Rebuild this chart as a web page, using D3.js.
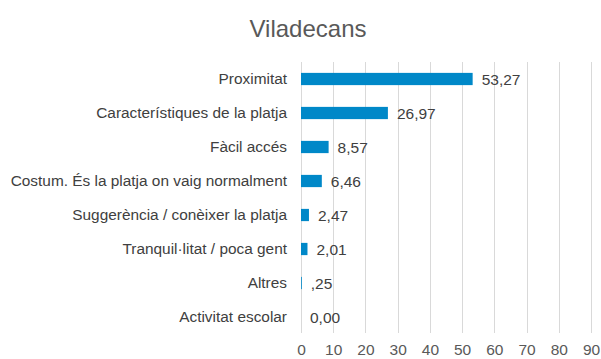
<!DOCTYPE html>
<html>
<head>
<meta charset="utf-8">
<script src="https://cdn.jsdelivr.net/npm/d3@7"></script>
<style>
  html, body { margin: 0; padding: 0; background: #fff; }
  svg { display: block; font-family: "Liberation Sans", Arial, sans-serif; }
</style>
</head>
<body>
<svg id="chart" width="601" height="359"></svg>
<script>
// Motius d'elecció de la platja — Viladecans (%)
const categories = [
  "Proximitat",
  "Característiques de la platja",
  "Fàcil accés",
  "Costum. És la platja on vaig normalment",
  "Suggerència / conèixer la platja",
  "Tranquil·litat / poca gent",
  "Altres",
  "Activitat escolar"
];
const values = [53.27, 26.97, 8.57, 6.46, 2.47, 2.01, 0.25, 0.00];
const valueLabels = ["53,27", "26,97", "8,57", "6,46", "2,47", "2,01", ",25", "0,00"];
const ticks = [0, 10, 20, 30, 40, 50, 60, 70, 80, 90];
const title = "Viladecans";

const svg = d3.select("#chart");
const FONT = "Liberation Sans, Arial, sans-serif";

const x = d3.scaleLinear().domain([0, 90]).range([301, 591]);
const y = d3.scaleBand().domain(categories).range([62, 334]).paddingInner(0.64).paddingOuter(0.32);

// Title
svg.append("text")
  .attr("x", 308).attr("y", 37)
  .attr("text-anchor", "middle")
  .attr("font-size", 24)
  .attr("fill", "#595959")
  .text(title);

// Vertical gridlines
svg.append("g").selectAll("line").data(ticks).join("line")
  .attr("x1", d => Math.round(x(d)) + 0.5).attr("x2", d => Math.round(x(d)) + 0.5)
  .attr("y1", 62).attr("y2", 333)
  .attr("stroke", "#d9d9d9").attr("stroke-width", 1);

// Bottom axis tick labels
const xAxis = d3.axisBottom(x).tickValues(ticks).tickSize(0).tickPadding(0);
const gx = svg.append("g").attr("transform", "translate(0,355)").call(xAxis);
gx.select(".domain").remove();
gx.selectAll("text")
  .attr("font-family", FONT)
  .attr("font-size", 15.5)
  .attr("fill", "#595959")
  .attr("dy", "0");

// Category labels
const yAxis = d3.axisLeft(y).tickSize(0).tickPadding(0);
const gy = svg.append("g").attr("transform", "translate(287,0)").call(yAxis);
gy.select(".domain").remove();
gy.selectAll("text")
  .attr("font-family", FONT)
  .attr("font-size", 15.4)
  .attr("fill", "#404040");

// Bars
svg.append("g").selectAll("rect").data(values).join("rect")
  .attr("x", x(0))
  .attr("y", (d, i) => y(categories[i]))
  .attr("width", d => x(d) - x(0))
  .attr("height", y.bandwidth())
  .attr("fill", "#0088c8");

// Value labels
svg.append("g").selectAll("text").data(values).join("text")
  .attr("x", d => x(d) + 9)
  .attr("y", (d, i) => y(categories[i]) + y.bandwidth() / 2)
  .attr("dy", "0.36em")
  .attr("font-size", 15.5)
  .attr("fill", "#404040")
  .text((d, i) => valueLabels[i]);
</script>
</body>
</html>
